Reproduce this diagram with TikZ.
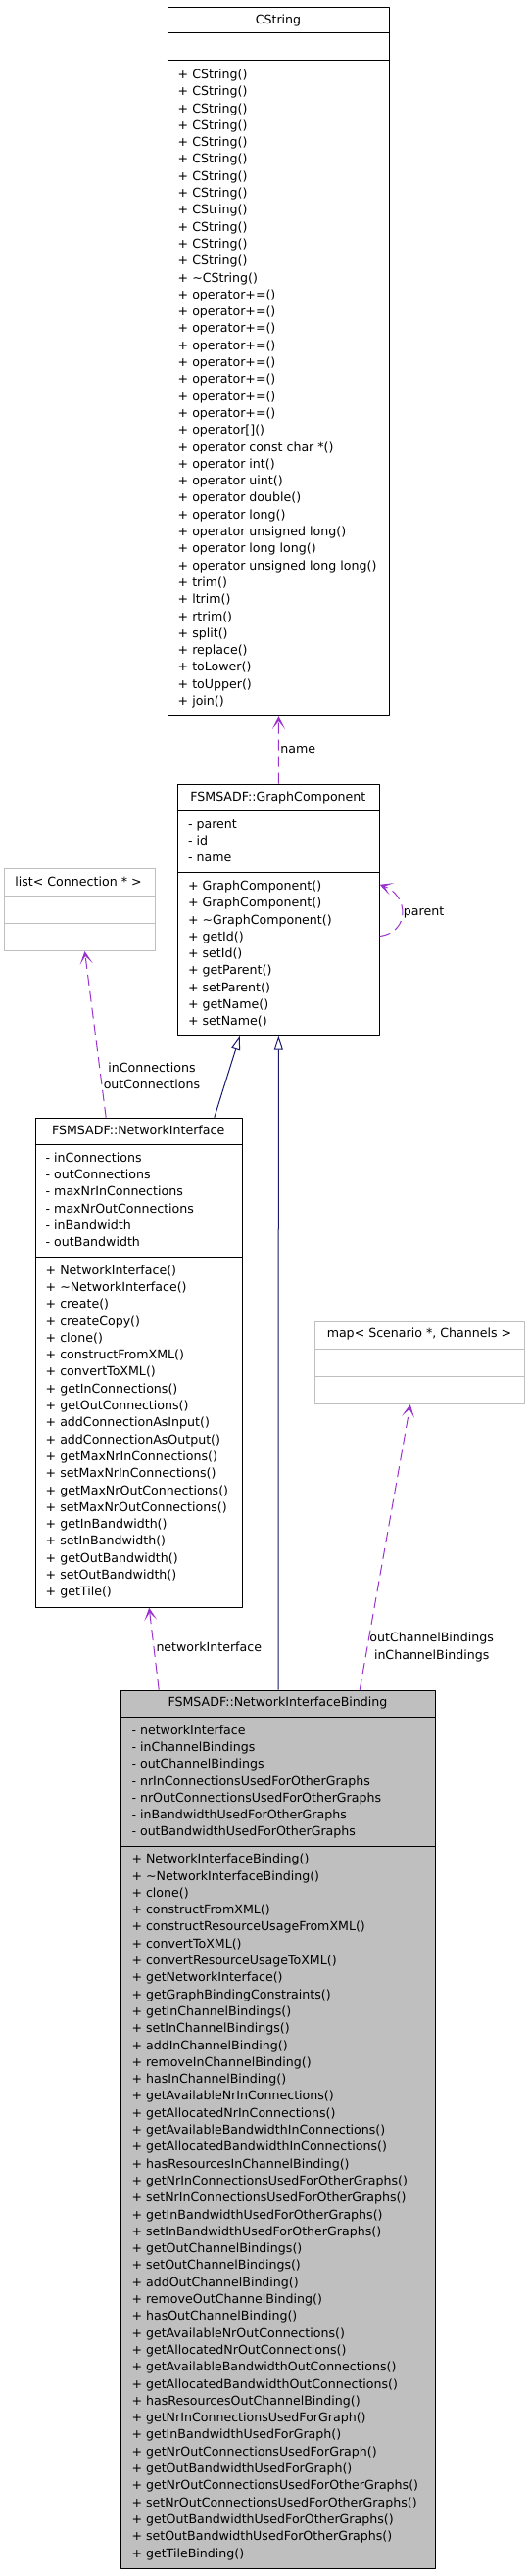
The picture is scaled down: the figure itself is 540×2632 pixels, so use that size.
\documentclass[tikz,border=0pt]{standalone}
\usepackage{fontspec}
\setmainfont{DejaVu Sans}
\usetikzlibrary{arrows.meta}
\definecolor{edgepurple}{HTML}{9A32CD}
\definecolor{inhblue}{HTML}{191970}
\definecolor{extgrey}{HTML}{BFBFBF}
\begin{document}
\begin{tikzpicture}[x=1pt,y=-1pt,line join=round,
  font=\fontsize{12.6}{17.3}\selectfont,
  classbox/.style={draw=black,line width=1pt,anchor=north west,inner sep=0pt},
  extbox/.style={draw=extgrey,line width=1pt,anchor=north west,inner sep=0pt},
  classname/.style={anchor=base,inner sep=0pt},
  member/.style={anchor=base west,inner sep=0pt},
  edgelabel/.style={inner sep=0pt},
  uses/.style={draw=edgepurple,line width=1pt,dash pattern=on 11pt off 6pt,
    -{Stealth[length=13pt,width=13pt,inset=8pt]}},
  isa/.style={draw=inhblue,line width=1pt,-{Triangle[length=14pt,width=9pt,fill=white]}}]
  \useasboundingbox[fill=white] (0,0) rectangle (540,2632);

  % CString
  \node[classbox,minimum width=226.6pt,minimum height=724.3pt] (cstr) at (170.7,6.7) {};
  \draw[line width=1pt] (170.7,33.3) -- (397.3,33.3) (170.7,61.7) -- (397.3,61.7);
  \node[classname] (cstrname) at (284,24.5) {CString};
  \foreach \m [count=\i from 0] in {CString(),CString(),CString(),CString(),CString(),CString(),
      CString(),CString(),CString(),CString(),CString(),CString(),\textasciitilde CString(),
      operator+=(),operator+=(),operator+=(),operator+=(),operator+=(),operator+=(),operator+=(),
      operator+=(),operator[](),operator const char *(),operator int(),operator uint(),
      operator double(),operator long(),operator unsigned long(),operator long long(),
      operator unsigned long long(),trim(),ltrim(),rtrim(),split(),replace(),toLower(),
      toUpper(),join()}
    \node[member] (cstrm\i) at (181.5,{80.4+17.3*\i}) {+ \m};

  % FSMSADF::GraphComponent
  \node[classbox,minimum width=205.7pt,minimum height=257pt] (gc) at (181,800.7) {};
  \draw[line width=1pt] (181,828.3) -- (386.7,828.3) (181,891) -- (386.7,891);
  \node[classname] (gcname) at (283.85,818.5) {FSMSADF::GraphComponent};
  \foreach \m [count=\i from 0] in {parent,id,name}
    \node[member] (gca\i) at (191.8,{846.1+17.3*\i}) {- \m};
  \foreach \m [count=\i from 0] in {GraphComponent(),GraphComponent(),\textasciitilde GraphComponent(),
      getId(),setId(),getParent(),setParent(),getName(),setName()}
    \node[member] (gcm\i) at (191.8,{909.4+17.3*\i}) {+ \m};

  % list< Connection * >
  \node[extbox,minimum width=153.7pt,minimum height=83.7pt] (lst) at (4.3,887.3) {};
  \draw[extgrey,line width=1pt] (4.3,915.3) -- (158,915.3) (4.3,943.3) -- (158,943.3);
  \node[classname] (lstname) at (80,905.1) {list< Connection * >};

  % FSMSADF::NetworkInterface
  \node[classbox,minimum width=211pt,minimum height=500pt] (ni) at (35.7,1141.7) {};
  \draw[line width=1pt] (35.7,1169.3) -- (246.7,1169.3) (35.7,1284.3) -- (246.7,1284.3);
  \node[classname] (niname) at (141.2,1159.2) {FSMSADF::NetworkInterface};
  \foreach \m [count=\i from 0] in {inConnections,outConnections,maxNrInConnections,
      maxNrOutConnections,inBandwidth,outBandwidth}
    \node[member] (nia\i) at (46.5,{1187.1+17.3*\i}) {- \m};
  \foreach \m [count=\i from 0] in {NetworkInterface(),\textasciitilde NetworkInterface(),create(),
      createCopy(),clone(),constructFromXML(),convertToXML(),getInConnections(),
      getOutConnections(),addConnectionAsInput(),addConnectionAsOutput(),
      getMaxNrInConnections(),setMaxNrInConnections(),getMaxNrOutConnections(),
      setMaxNrOutConnections(),getInBandwidth(),setInBandwidth(),getOutBandwidth(),
      setOutBandwidth(),getTile()}
    \node[member] (nim\i) at (46.5,{1302.1+17.3*\i}) {+ \m};

  % map< Scenario *, Channels >
  \node[extbox,minimum width=214.6pt,minimum height=84pt] (map) at (320.7,1350) {};
  \draw[extgrey,line width=1pt] (320.7,1378) -- (535.3,1378) (320.7,1406) -- (535.3,1406);
  \node[classname] (mapname) at (428,1366.8) {map< Scenario *, Channels >};

  % FSMSADF::NetworkInterfaceBinding
  \node[classbox,fill=extgrey,minimum width=320.4pt,minimum height=897.3pt] (nib) at (123.3,1726.7) {};
  \draw[line width=1pt] (123.3,1754) -- (443.7,1754) (123.3,1886.7) -- (443.7,1886.7);
  \node[classname] (nibname) at (283.5,1743.8) {FSMSADF::NetworkInterfaceBinding};
  \foreach \m [count=\i from 0] in {networkInterface,inChannelBindings,outChannelBindings,
      nrInConnectionsUsedForOtherGraphs,nrOutConnectionsUsedForOtherGraphs,
      inBandwidthUsedForOtherGraphs,outBandwidthUsedForOtherGraphs}
    \node[member] (niba\i) at (134.3,{1772.1+17.3*\i}) {- \m};
  \foreach \m [count=\i from 0] in {NetworkInterfaceBinding(),\textasciitilde NetworkInterfaceBinding(),
      clone(),constructFromXML(),constructResourceUsageFromXML(),convertToXML(),
      convertResourceUsageToXML(),getNetworkInterface(),getGraphBindingConstraints(),
      getInChannelBindings(),setInChannelBindings(),addInChannelBinding(),
      removeInChannelBinding(),hasInChannelBinding(),getAvailableNrInConnections(),
      getAllocatedNrInConnections(),getAvailableBandwidthInConnections(),
      getAllocatedBandwidthInConnections(),hasResourcesInChannelBinding(),
      getNrInConnectionsUsedForOtherGraphs(),setNrInConnectionsUsedForOtherGraphs(),
      getInBandwidthUsedForOtherGraphs(),setInBandwidthUsedForOtherGraphs(),
      getOutChannelBindings(),setOutChannelBindings(),addOutChannelBinding(),
      removeOutChannelBinding(),hasOutChannelBinding(),getAvailableNrOutConnections(),
      getAllocatedNrOutConnections(),getAvailableBandwidthOutConnections(),
      getAllocatedBandwidthOutConnections(),hasResourcesOutChannelBinding(),
      getNrInConnectionsUsedForGraph(),getInBandwidthUsedForGraph(),
      getNrOutConnectionsUsedForGraph(),getOutBandwidthUsedForGraph(),
      getNrOutConnectionsUsedForOtherGraphs(),setNrOutConnectionsUsedForOtherGraphs(),
      getOutBandwidthUsedForOtherGraphs(),setOutBandwidthUsedForOtherGraphs(),
      getTileBinding()}
    \node[member] (nibm\i) at (134.3,{1903.7+17.3*\i}) {+ \m};

  % collaboration edges
  \draw[uses] (gc.north) -- node[right,edgelabel,xshift=1.5pt] (namelbl) {name} (cstr.south);
  \draw[uses] ([yshift=-26.8pt]gc.east) .. controls ([xshift=31.3pt,yshift=-22.8pt]gc.east)
    and ([xshift=29.3pt,yshift=15.2pt]gc.east) .. ([yshift=25.9pt]gc.east)
    node[pos=.5,right,edgelabel,xshift=1pt] (parentlbl) {parent};
  \draw[uses] ([xshift=-33.5pt]ni.north) -- ([xshift=4.85pt]lst.south);
  \node[edgelabel,align=center] (connlbl) at (155,1099.2) {inConnections\\outConnections};
  \draw[uses] ([xshift=-121.8pt]nib.north) -- ([xshift=10.5pt]ni.south);
  \node[edgelabel,anchor=west] (nilbl) at (159.3,1682.7) {networkInterface};
  \draw[uses] ([xshift=83.2pt]nib.north) -- ([xshift=-9.7pt]map.south);
  \node[edgelabel,align=center] (chanlbl) at (440.7,1683) {outChannelBindings\\inChannelBindings};

  % inheritance
  \draw[isa] ([xshift=77.1pt]ni.north) -- ([xshift=-39.5pt]gc.south);
  \draw[isa] (nib.north) -- (gc.south);
\end{tikzpicture}
\end{document}
